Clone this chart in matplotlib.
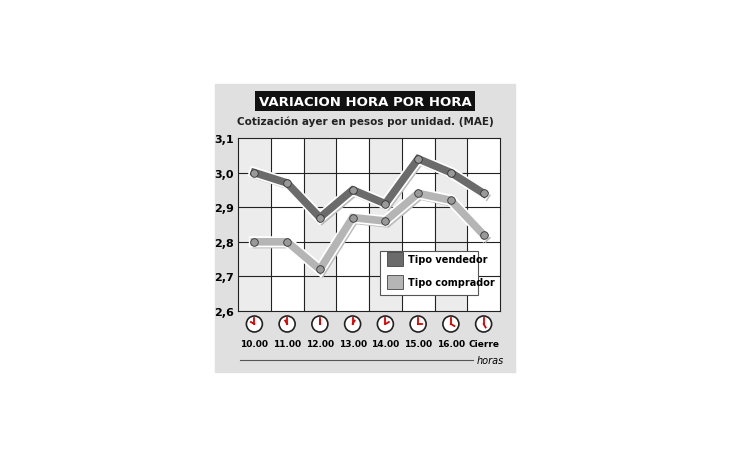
import matplotlib

matplotlib.use("Agg")
from matplotlib import pyplot as plt
from matplotlib import patheffects as pe
from matplotlib.patches import Rectangle, Ellipse
import numpy as np

hours = ["10.00", "11.00", "12.00", "13.00", "14.00", "15.00", "16.00", "Cierre"]
vendedor = [3.00, 2.97, 2.87, 2.95, 2.91, 3.04, 3.00, 2.94]
comprador = [2.80, 2.80, 2.72, 2.87, 2.86, 2.94, 2.92, 2.82]
# clock hands (hour angle from 12 in degrees, minute angle)
clock_hands = [(300, 0), (330, 0), (0, 0), (30, 0), (60, 0), (90, 0), (120, 0), (150, 0)]

fig = plt.figure(figsize=(7.3, 4.6), dpi=100)
fig.patches.append(Rectangle((215 / 730, 1 - 373 / 460), 300 / 730, 288 / 460,
                             transform=fig.transFigure, color="#e0e0e0", zorder=-5))
ax = fig.add_axes([238 / 730, 1 - 312 / 460, 262 / 730, 173 / 460])
ax.set_zorder(2)
x = np.arange(len(hours))
for i in x:
    ax.axvspan(i - 0.5, i + 0.5, color="#ececec" if i % 2 == 0 else "white", zorder=0)
ax.set_xlim(-0.5, len(hours) - 0.5)
ax.set_ylim(2.6, 3.1)
ax.set_yticks([2.6, 2.7, 2.8, 2.9, 3.0, 3.1])
ax.set_yticklabels(["2,6", "2,7", "2,8", "2,9", "3,0", "3,1"], fontsize=8, fontweight="bold")
ax.set_xticks([])
ax.tick_params(length=0, pad=3)
for yv in [2.7, 2.8, 2.9, 3.0]:
    ax.axhline(yv, color="#222222", lw=0.8, zorder=1)
for xv in x[:-1] + 0.5:
    ax.axvline(xv, color="#222222", lw=0.8, zorder=1)
for s in ax.spines.values():
    s.set_color("#222222")

shadow = [pe.SimpleLineShadow(offset=(1.5, -2), shadow_color="#bbbbbb", alpha=1),
          pe.Stroke(linewidth=8, foreground="white"), pe.Normal()]
ax.plot(x, vendedor, color="#6b6b6b", lw=5.5, zorder=3, path_effects=shadow,
        solid_joinstyle="miter")
ax.plot(x, comprador, color="#b5b5b5", lw=5.5, zorder=3, path_effects=shadow,
        solid_joinstyle="miter")
for ys in (vendedor, comprador):
    ax.scatter(x, ys, s=30, color="#999999", edgecolor="#333333", linewidth=0.6, zorder=4)

# legend box
ax.add_patch(Rectangle((3.84, 2.646), 3.0, 0.127, facecolor="white", edgecolor="#555555",
                       lw=0.8, zorder=5))
for yy, col, lab in [(2.75, "#6b6b6b", "Tipo vendedor"), (2.683, "#b5b5b5", "Tipo comprador")]:
    ax.add_patch(Rectangle((4.05, yy - 0.02), 0.5, 0.04, facecolor=col,
                           edgecolor="#444444", lw=0.6, zorder=6))
    ax.text(4.68, yy, lab, fontsize=7, fontweight="bold", va="center", zorder=6)

# clocks and hour labels
for i, (ha, ma) in enumerate(clock_hands):
    xc = (238 + (i + 0.5) * 262 / 8) / 730
    yc = 1 - 325 / 460
    rw, rh = 8 / 730, 8 / 460
    fig.patches.append(Ellipse((xc, yc), 2 * rw, 2 * rh, transform=fig.transFigure,
                               facecolor="white", edgecolor="#222222", lw=1.2))
    for ang, ln in [(ma, 0.7), (ha, 0.5)]:
        a = np.deg2rad(ang)
        fig.lines.append(plt.Line2D([xc, xc + ln * rw * np.sin(a)],
                                    [yc, yc + ln * rh * np.cos(a)],
                                    transform=fig.transFigure, color="#dd0000", lw=1.3))
    fig.text(xc, 1 - 345 / 460, hours[i], ha="center", va="center", fontsize=6.5,
             fontweight="bold")

fig.lines.append(plt.Line2D([240 / 730, 473 / 730], [1 - 361 / 460] * 2,
                            transform=fig.transFigure, color="#555555", lw=0.8))
fig.text(477 / 730, 1 - 361 / 460, "horas", fontsize=7, style="italic", va="center")

fig.text(365 / 730, 1 - 102 / 460, "VARIACION HORA POR HORA", ha="center", va="center",
         fontsize=9.5, fontweight="bold", color="white",
         bbox=dict(boxstyle="square,pad=0.3", facecolor="#111111", edgecolor="none"))
fig.text(365 / 730, 1 - 122 / 460, "Cotización ayer en pesos por unidad. (MAE)",
         ha="center", va="center", fontsize=7.5, fontweight="bold", color="#222222")

fig.savefig("out.png")
